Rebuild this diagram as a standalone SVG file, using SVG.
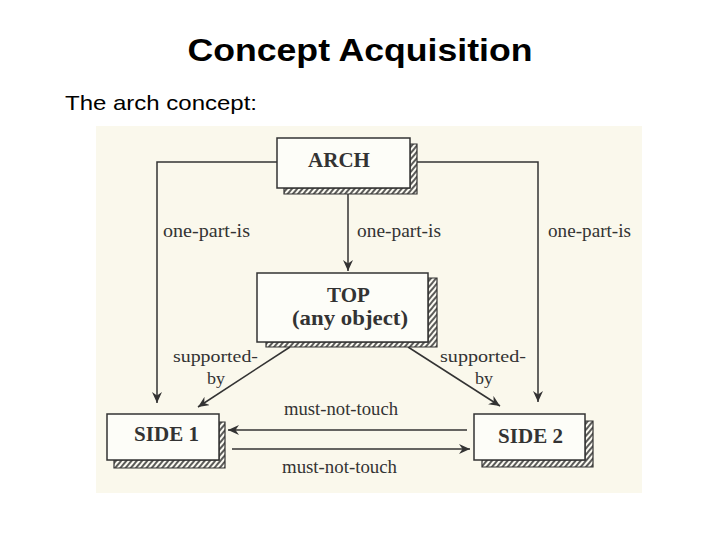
<svg xmlns="http://www.w3.org/2000/svg" width="720" height="540" viewBox="0 0 720 540">
  <defs>
    <pattern id="hatch" patternUnits="userSpaceOnUse" width="4" height="4" patternTransform="rotate(40)">
      <rect width="4" height="4" fill="#fbfaf2"/>
      <line x1="1" y1="0" x2="1" y2="4" stroke="#333" stroke-width="1.6"/>
    </pattern>
    <marker id="arr" markerUnits="userSpaceOnUse" markerWidth="12" markerHeight="10" refX="11" refY="5" orient="auto">
      <path d="M0,0 L11,5 L0,10 L3.5,5 Z" fill="#333"/>
    </marker>
    <style>
      .box { fill: #fdfdf8; stroke: #333; stroke-width: 1.5; }
      .shadow { fill: url(#hatch); stroke: #333; stroke-width: 1.2; }
      .node { font-family: "Liberation Serif", "Times New Roman", serif; font-weight: bold; font-size: 21px; fill: #333; text-anchor: middle; }
      .lbl { font-family: "Liberation Serif", "Times New Roman", serif; font-size: 18px; fill: #333; }
      .sm { font-size: 17px; }
      .conn { fill: none; stroke: #333; stroke-width: 1.5; }
      .title { font-family: "Liberation Sans", Arial, sans-serif; font-weight: bold; font-size: 32px; fill: #000; text-anchor: middle; }
      .sub { font-family: "Liberation Sans", Arial, sans-serif; font-size: 21px; fill: #000; }
    </style>
  </defs>

  <rect width="720" height="540" fill="#ffffff"/>
  <text class="title" x="360" y="61" textLength="345" lengthAdjust="spacingAndGlyphs">Concept Acquisition</text>
  <text class="sub" x="65" y="110" textLength="192" lengthAdjust="spacingAndGlyphs">The arch concept:</text>

  <rect x="96" y="126" width="546" height="367" fill="#faf8ec"/>

  <g id="connectors">
    <path class="conn" d="M277,162 H157 V403" marker-end="url(#arr)"/>
    <path class="conn" d="M417,162 H538 V402" marker-end="url(#arr)"/>
    <path class="conn" d="M348,194 V271" marker-end="url(#arr)"/>
    <path class="conn" d="M290,347 L198,407" marker-end="url(#arr)"/>
    <path class="conn" d="M408,347 L500,406" marker-end="url(#arr)"/>
    <path class="conn" d="M467,430 H228" marker-end="url(#arr)"/>
    <path class="conn" d="M232,449 H470" marker-end="url(#arr)"/>
    <text class="lbl" x="163" y="237" textLength="87" lengthAdjust="spacingAndGlyphs">one-part-is</text>
    <text class="lbl" x="357" y="237" textLength="84" lengthAdjust="spacingAndGlyphs">one-part-is</text>
    <text class="lbl" x="548" y="237" textLength="83" lengthAdjust="spacingAndGlyphs">one-part-is</text>
    <text class="lbl sm" x="173" y="362" textLength="85" lengthAdjust="spacingAndGlyphs">supported-</text>
    <text class="lbl sm" x="207" y="384" textLength="18" lengthAdjust="spacingAndGlyphs">by</text>
    <text class="lbl sm" x="440" y="362" textLength="86" lengthAdjust="spacingAndGlyphs">supported-</text>
    <text class="lbl sm" x="475" y="384" textLength="18" lengthAdjust="spacingAndGlyphs">by</text>
    <text class="lbl" x="284" y="415" textLength="114" lengthAdjust="spacingAndGlyphs">must-not-touch</text>
    <text class="lbl" x="282" y="473" textLength="115" lengthAdjust="spacingAndGlyphs">must-not-touch</text>
  </g>

  <g id="arch">
    <polygon class="shadow" points="410,144 417,144 417,194 284,194 284,188 410,188"/>
    <rect class="box" x="277" y="138" width="133" height="50"/>
    <text class="node" x="339" y="167">ARCH</text>
  </g>

  <g id="top">
    <polygon class="shadow" points="428,278 437,278 437,347 266,347 266,342 428,342"/>
    <rect class="box" x="257" y="273" width="171" height="69"/>
    <text class="node" x="348.5" y="302">TOP</text>
    <text class="node" x="350" y="325" textLength="116" lengthAdjust="spacingAndGlyphs">(any object)</text>
  </g>

  <g id="side1">
    <polygon class="shadow" points="219,422 225,422 225,468 114,468 114,460 219,460"/>
    <rect class="box" x="107" y="414" width="112" height="46"/>
    <text class="node" x="166.5" y="441">SIDE 1</text>
  </g>

  <g id="side2">
    <polygon class="shadow" points="585,421 593,421 593,467 482,467 482,460 585,460"/>
    <rect class="box" x="474" y="414" width="111" height="46"/>
    <text class="node" x="530.5" y="443">SIDE 2</text>
  </g>
</svg>
